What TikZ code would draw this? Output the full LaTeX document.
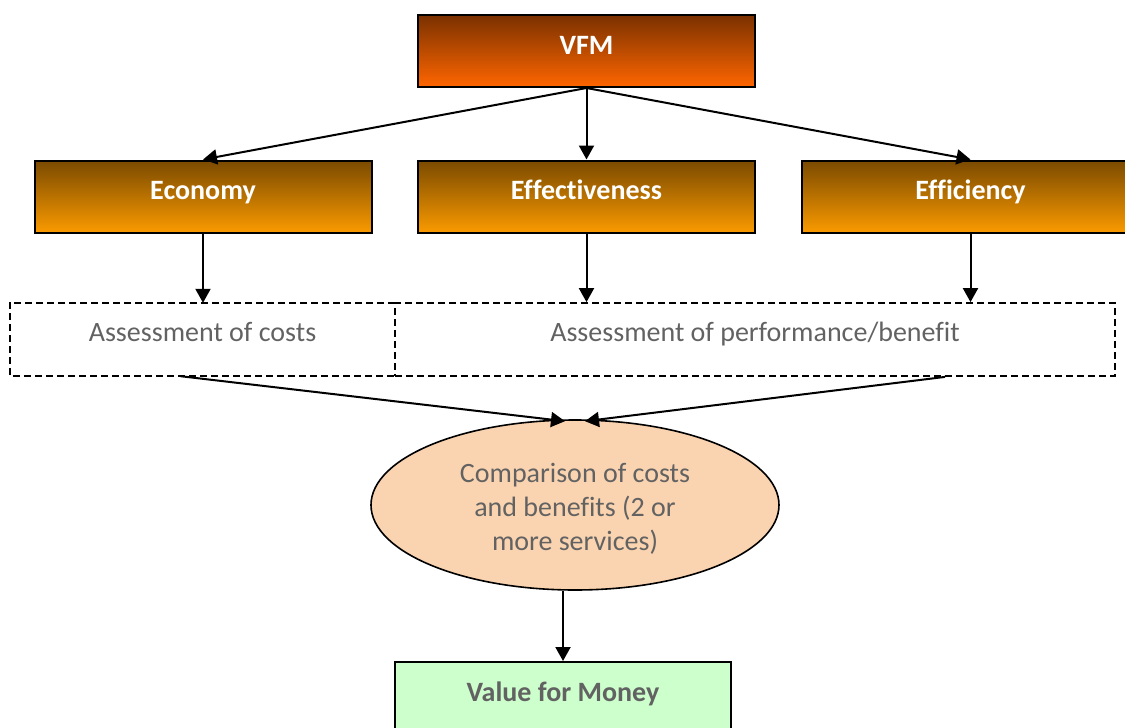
\documentclass[tikz,border=0pt]{standalone}
\usepackage{fontspec}
\setmainfont{Carlito}[Ligatures=NoCommon]
\usetikzlibrary{shapes.geometric,arrows.meta}
\definecolor{vfmtop}{HTML}{7A3100}
\definecolor{vfmbot}{HTML}{FF6600}
\definecolor{subtop}{HTML}{7A4A00}
\definecolor{subbot}{HTML}{FA9A00}
\definecolor{txtgray}{HTML}{626262}
\definecolor{ellfill}{HTML}{FAD4B0}
\definecolor{vfmgreen}{HTML}{CCFFCC}
\tikzset{
  headbox/.style={draw=black, line width=2pt, minimum width=337pt, minimum height=72pt,
    inner sep=0pt, text=white, font=\fontsize{28}{34}\selectfont\bfseries,
    text height=20pt, text depth=14pt},
  vfmbox/.style={headbox, top color=vfmtop, bottom color=vfmbot},
  subbox/.style={headbox, top color=subtop, bottom color=subbot},
  dashline/.style={draw=black, line width=1.8pt, dash pattern=on 7pt off 4pt},
  dashbox/.style={minimum height=73pt,
    inner sep=0pt, text=txtgray, font=\fontsize{28}{34}\selectfont,
    text height=20pt, text depth=16pt},
  cmpell/.style={ellipse, draw=black, line width=1.6pt, fill=ellfill, minimum width=408pt,
    minimum height=170pt, inner sep=0pt, align=center, text=txtgray,
    font=\fontsize{28}{34}\selectfont},
  greenbox/.style={draw=black, line width=2pt, fill=vfmgreen, minimum width=336pt, minimum height=72pt,
    inner sep=0pt, text=txtgray, font=\fontsize{28}{34}\selectfont\bfseries,
    text height=20pt, text depth=14pt},
  conn/.style={draw=black, line width=2pt, -{Triangle[length=14pt,width=15pt]}}
}
\begin{document}
\begin{tikzpicture}[x=1pt,y=-1pt]
\useasboundingbox (0,0) rectangle (1125,728);
\clip (0,0) rectangle (1125,728);
\node[vfmbox] (vfm) at (586.5,51) {VFM};
\node[subbox] (econ) at (203,196.5) {Economy};
\node[subbox] (effe) at (586.5,196.5) {Effectiveness};
\node[subbox] (effi) at (970.5,196.5) {Efficiency};
\node[dashbox, minimum width=385pt] (cost) at (202.5,339.5) {Assessment of costs};
\node[dashbox, dashline, minimum width=720pt] (perf) at (755,339.5) {Assessment of performance/benefit};
\draw[dashline] (cost.north east) -- (cost.north west) -- (cost.south west) -- (cost.south east);
\node[cmpell] (cmp) at (575,505) {\rule{0pt}{26pt}Comparison of costs\\and benefits (2 or\\more services)};
\node[greenbox] (money) at (563,698) {Value for Money};
\draw[conn] (vfm.south) -- (econ.north);
\draw[conn] (vfm.south) -- (effe.north);
\draw[conn] (vfm.south) -- (effi.north);
\draw[conn] (econ.south) -- (econ.south |- cost.north);
\draw[conn] (effe.south) -- (effe.south |- perf.north);
\draw[conn] (effi.south) -- (effi.south |- perf.north);
\draw[conn] ([xshift=-22pt]cost.south) -- ([xshift=-10pt,yshift=-2pt]cmp.north);
\draw[conn] ([xshift=190pt]perf.south) -- ([xshift=10pt,yshift=-2pt]cmp.north);
\draw[conn] (money.north |- cmp.south) -- (money.north);
\end{tikzpicture}
\end{document}
